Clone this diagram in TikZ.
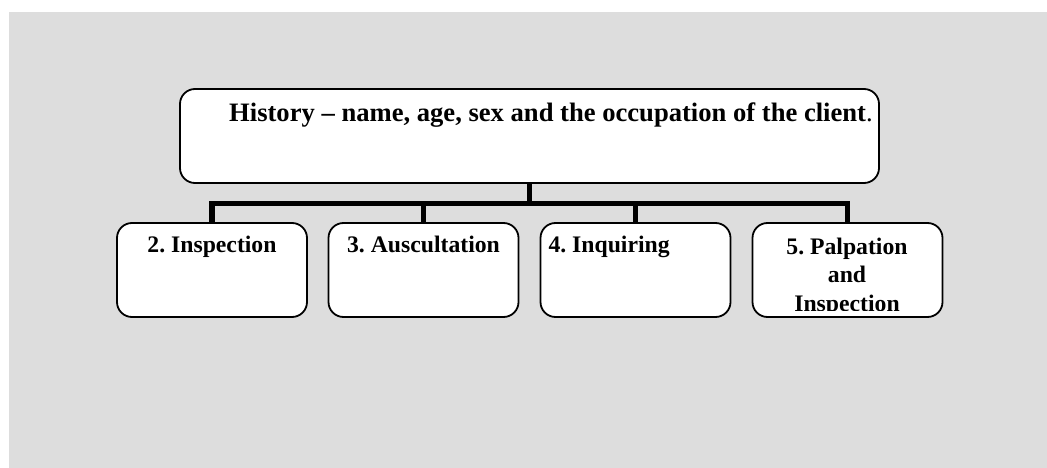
\documentclass[tikz,border=0pt]{standalone}
\usepackage{fontspec}
\setmainfont{Liberation Serif}
\frenchspacing
\begin{document}
\begin{tikzpicture}[x=1pt,y=-1pt,
  box/.style={draw=black,line width=1.8pt,fill=white,rounded corners=15pt,
    inner sep=0pt,outer sep=0pt,minimum height=94pt},
  subbox/.style={box,minimum width=190pt},
  link/.style={draw=black,line width=5.5pt},
  headtext/.style={inner sep=0pt,font=\fontsize{26.6}{30}\selectfont\bfseries\frenchspacing},
  subtext/.style={inner sep=0pt,font=\fontsize{23.7}{28.7}\selectfont\bfseries\frenchspacing}]
  % canvas
  \useasboundingbox (0,0) rectangle (1047,468);
  \fill[fill={rgb,255:red,221;green,221;blue,221}] (9,12) rectangle (1047,468);

  % branch junction
  \coordinate (bar) at (529.5,203.3);

  % boxes
  \node[box,minimum width=699pt] (main) at (529.5,136) {};
  \node[subbox] (c1) at (212,270) {};
  \node[subbox] (c2) at (423.5,270) {};
  \node[subbox] (c3) at (635.5,270) {};
  \node[subbox] (c4) at (847.5,270) {};

  % connectors
  \draw[link] (main.south) -- (bar);
  \draw[link] (c1.north) -- (c1.north |- bar) -- (c4.north |- bar) -- (c4.north);
  \draw[link] (c2.north) -- (c2.north |- bar);
  \draw[link] (c3.north) -- (c3.north |- bar);

  % texts
  \node[headtext,anchor=base west] (mt) at (229,121.7)
    {History – name, age, sex and the occupation of the client\textmd{.}};
  \node[subtext,anchor=base] (t1) at (212,252.7) {2. Inspection};
  \node[subtext,anchor=base] (t2) at (423.5,252.7) {3. Auscultation};
  \node[subtext,anchor=base west] (t3) at (548.3,252) {4. Inquiring};
  \begin{scope}
    \clip (752,224) rectangle (943,310.5);
    \node[subtext,anchor=base] (t4a) at (847,254) {5. Palpation};
    \node[subtext,anchor=base] (t4b) at (847,282.7) {and};
    \node[subtext,anchor=base] (t4c) at (847,311.4) {Inspection};
  \end{scope}
\end{tikzpicture}
\end{document}
